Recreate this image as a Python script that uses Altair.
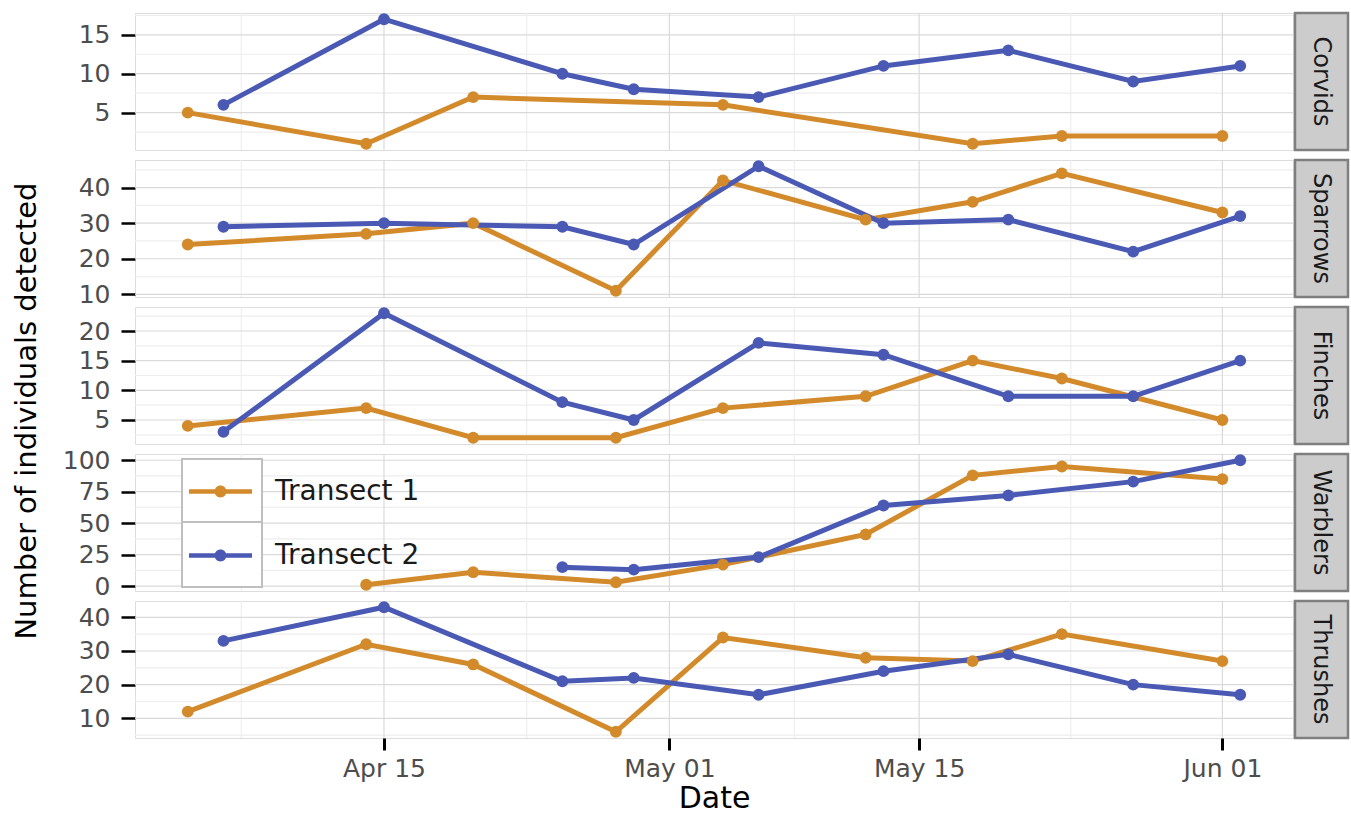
import altair as alt
import pandas as pd

# ---- data -------------------------------------------------------------
species = ["Corvids", "Sparrows", "Finches", "Warblers", "Thrushes"]
transects = ["Transect 1", "Transect 2"]
colors = ["#D38A2B", "#4A5AB4"]

# survey dates of each transect
dates_t1 = ["2012-04-04", "2012-04-14", "2012-04-20", "2012-04-28", "2012-05-04",
            "2012-05-12", "2012-05-18", "2012-05-23", "2012-06-01"]
dates_t2 = ["2012-04-06", "2012-04-15", "2012-04-25", "2012-04-29", "2012-05-06",
            "2012-05-13", "2012-05-20", "2012-05-27", "2012-06-02"]

# counts per survey (None = not surveyed)
corvids_t1 = [5, 1, 7, None, 6, None, 1, 2, 2]
corvids_t2 = [6, 17, 10, 8, 7, 11, 13, 9, 11]
sparrows_t1 = [24, 27, 30, 11, 42, 31, 36, 44, 33]
sparrows_t2 = [29, 30, 29, 24, 46, 30, 31, 22, 32]
finches_t1 = [4, 7, 2, 2, 7, 9, 15, 12, 5]
finches_t2 = [3, 23, 8, 5, 18, 16, 9, 9, 15]
warblers_t1 = [None, 1, 11, 3, 17, 41, 88, 95, 85]
warblers_t2 = [None, None, 15, 13, 23, 64, 72, 83, 100]
thrushes_t1 = [12, 32, 26, 6, 34, 28, 27, 35, 27]
thrushes_t2 = [33, 43, 21, 22, 17, 24, 29, 20, 17]

counts = {
    "Corvids": (corvids_t1, corvids_t2),
    "Sparrows": (sparrows_t1, sparrows_t2),
    "Finches": (finches_t1, finches_t2),
    "Warblers": (warblers_t1, warblers_t2),
    "Thrushes": (thrushes_t1, thrushes_t2),
}

# y ranges and breaks of each panel
y_domains = {
    "Corvids": [0.2, 17.8],
    "Sparrows": [9.25, 47.75],
    "Finches": [0.95, 24.05],
    "Warblers": [-3.95, 104.95],
    "Thrushes": [4.15, 44.85],
}
y_major = {
    "Corvids": [5, 10, 15],
    "Sparrows": [10, 20, 30, 40],
    "Finches": [5, 10, 15, 20],
    "Warblers": [0, 25, 50, 75, 100],
    "Thrushes": [10, 20, 30, 40],
}
y_minor = {
    "Corvids": [2.5, 7.5, 12.5, 17.5],
    "Sparrows": [15, 25, 35, 45],
    "Finches": [2.5, 7.5, 12.5, 17.5, 22.5],
    "Warblers": [12.5, 37.5, 62.5, 87.5],
    "Thrushes": [5, 15, 25, 35],
}

x_major = ["2012-04-15", "2012-05-01", "2012-05-15", "2012-06-01"]
x_minor = ["2012-04-07", "2012-04-23", "2012-05-08", "2012-05-23T12:00:00"]

# ---- layout -----------------------------------------------------------
W, H = 1158, 137
FONT = "DejaVu Sans"
MAJOR_GRID = "#DADADA"
MINOR_GRID = "#EEEEEE"


def dt(s, h=0):
    y, m, d = (int(v) for v in s.split("-"))
    return alt.DateTime(year=y, month=m, date=d, hours=h, utc=True)


x_scale = alt.Scale(type="utc", domain=[dt("2012-04-01", 1), dt("2012-06-04", 23)])
x_ticks = [dt(s) for s in x_major]


def panel(name, bottom=False, with_legend=False):
    t1, t2 = counts[name]
    rows = []
    for tr, ds, vs in ((transects[0], dates_t1, t1), (transects[1], dates_t2, t2)):
        for d, v in zip(ds, vs):
            if v is not None:
                rows.append({"date": d, "count": v, "transect": tr, "species": name})
    df = pd.DataFrame(rows)

    y_scale = alt.Scale(domain=y_domains[name], nice=False, zero=False)
    y_axis = alt.Axis(values=y_major[name], title=None, grid=False, domain=False,
                      tickColor="black", tickWidth=2.5, tickSize=14,
                      labelFont=FONT, labelFontSize=25, labelColor="#4D4D4D",
                      labelPadding=11)
    if bottom:
        x_axis = alt.Axis(values=x_ticks, format="%b %d", title="Date", grid=False,
                          domain=False, tickColor="black", tickWidth=3, tickSize=12,
                          labelFont=FONT, labelFontSize=25, labelColor="#4D4D4D",
                          labelPadding=6, labelFlush=False, labelOverlap=False,
                          titleFont=FONT, titleFontSize=30, titleFontWeight="normal",
                          titleColor="black", titlePadding=2)
    else:
        x_axis = None

    if with_legend:
        color_legend = alt.Legend(
            title=None, orient="none", legendX=54, legendY=6,
            symbolType="M-1,-0.07H1V0.07H-1Z M0.19,0A0.19,0.19 0 1,1 -0.19,0A0.19,0.19 0 1,1 0.19,0Z",
            symbolSize=3969, symbolStrokeWidth=0, symbolOpacity=1,
            labelFont=FONT, labelFontSize=28, labelColor="#1A1A1A",
            labelOffset=23, rowPadding=18, padding=0,
        )
    else:
        color_legend = None
    color = alt.Color("transect:N", scale=alt.Scale(domain=transects, range=colors),
                      legend=color_legend)

    def xenc(field="date"):
        return alt.X(f"{field}:T", scale=x_scale, axis=x_axis)

    def yenc(field="count"):
        return alt.Y(f"{field}:Q", scale=y_scale, axis=y_axis)

    grid_y_minor = alt.Chart(pd.DataFrame({"count": y_minor[name]})).mark_rule(
        color=MINOR_GRID, strokeWidth=1.2).encode(y=yenc())
    grid_y_major = alt.Chart(pd.DataFrame({"count": y_major[name]})).mark_rule(
        color=MAJOR_GRID, strokeWidth=1.2).encode(y=yenc())
    grid_x_minor = alt.Chart(pd.DataFrame({"date": x_minor})).mark_rule(
        color=MINOR_GRID, strokeWidth=1.2).encode(x=xenc())
    grid_x_major = alt.Chart(pd.DataFrame({"date": x_major})).mark_rule(
        color=MAJOR_GRID, strokeWidth=1.2).encode(x=xenc())

    lines = alt.Chart(df).mark_line(strokeWidth=5).encode(
        x=xenc(), y=yenc(), color=color)
    points = alt.Chart(df).mark_point(filled=True, size=140, opacity=1).encode(
        x=xenc(), y=yenc(), color=color)

    strip = alt.Chart(pd.DataFrame({"species": [name]})).mark_rect(
        fill="#CCCCCC", stroke="#7F7F7F", strokeWidth=2.5).encode(
        x=alt.value(W + 2), x2=alt.value(W + 55), y=alt.value(0), y2=alt.value(H))
    strip_text = alt.Chart(pd.DataFrame({"species": [name]})).mark_text(
        angle=90, font=FONT, fontSize=24, color="#1A1A1A",
        align="center", baseline="middle").encode(
        x=alt.value(W + 28), y=alt.value(H / 2), text="species:N")

    layers = [grid_y_minor, grid_x_minor, grid_y_major, grid_x_major]
    if with_legend:
        box1 = alt.Chart(pd.DataFrame({"transect": [transects[0]]})).mark_rect(
            fill="white", stroke="#BFBFBF", strokeWidth=2).encode(
            x=alt.value(47), x2=alt.value(127), y=alt.value(5), y2=alt.value(68))
        box2 = alt.Chart(pd.DataFrame({"transect": [transects[1]]})).mark_rect(
            fill="white", stroke="#BFBFBF", strokeWidth=2).encode(
            x=alt.value(47), x2=alt.value(127), y=alt.value(68), y2=alt.value(133))
        layers += [box1, box2]
    layers += [lines, points, strip, strip_text]
    return alt.layer(*layers).properties(width=W, height=H)


panels = [panel(s, bottom=(s == "Thrushes"), with_legend=(s == "Warblers")) for s in species]

chart = alt.vconcat(*panels, spacing=10, bounds="flush").resolve_scale(
    color="independent", y="independent"
).resolve_legend(color="independent").properties(
    title=alt.TitleParams("Number of individuals detected", orient="left", anchor="middle",
                          font=FONT, fontSize=29, fontWeight="normal", color="black",
                          offset=20),
    padding={"left": 12, "top": 8, "right": 0, "bottom": 0},
).configure_view(
    stroke="#7F7F7F", strokeWidth=2.5, fill="white"
).configure(background="white")

chart.save("out.html", embed_options={"renderer": "svg", "actions": False})
